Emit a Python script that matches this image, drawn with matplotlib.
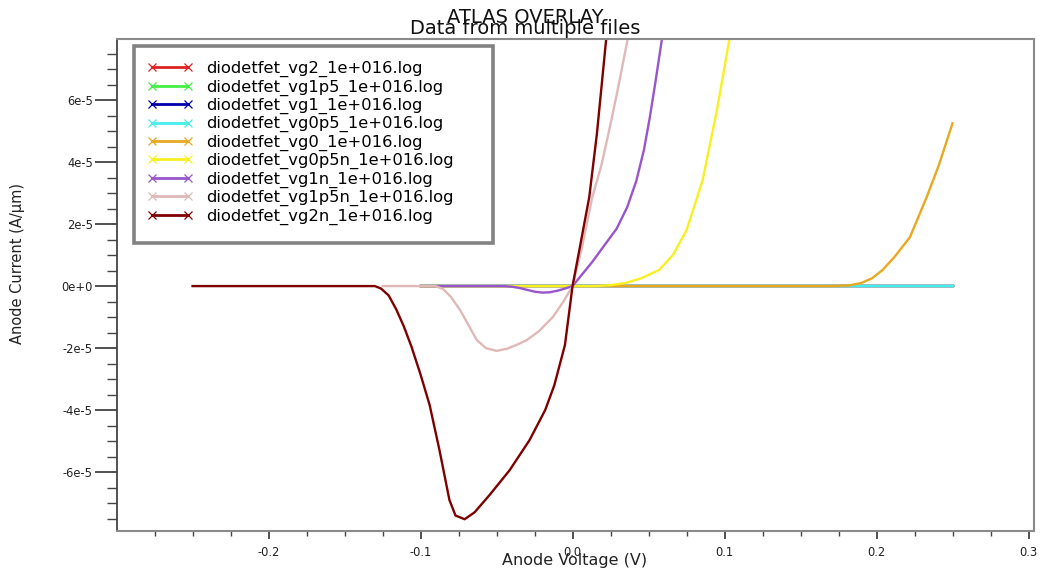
import matplotlib
matplotlib.use('Agg')
import matplotlib.pyplot as plt
from matplotlib.lines import Line2D
from matplotlib.patches import Rectangle
from matplotlib.ticker import MultipleLocator, FuncFormatter

# anode sweeps, voltage in V, current in A/um
V_FLAT = [-0.1, 0.25]
I_FLAT = [0.0, 0.0]

V_VG0 = [-0.1, 0.17, 0.182, 0.19, 0.197, 0.204, 0.212, 0.222, 0.233, 0.241, 0.25]
I_VG0 = [0, 0, 0.02e-5, 0.1e-5, 0.25e-5, 0.52e-5, 0.95e-5, 1.58e-5, 2.87e-5,
         3.9e-5, 5.25e-5]

V_VG0P5N = [-0.1, 0.015, 0.025, 0.035, 0.045, 0.057, 0.066, 0.075, 0.0855,
            0.0947, 0.103, 0.107]
I_VG0P5N = [0, 0, 0.03e-5, 0.1e-5, 0.25e-5, 0.52e-5, 1.0e-5, 1.8e-5, 3.4e-5,
            5.6e-5, 7.9e-5, 9.2e-5]

V_VG1N = [-0.1, -0.045, -0.04, -0.035, -0.03, -0.025, -0.02, -0.015, -0.01,
          -0.005, 0.0, 0.005, 0.013, 0.02, 0.029, 0.036, 0.042, 0.047, 0.0507,
          0.0546, 0.0586, 0.062]
I_VG1N = [0, 0, -0.02e-5, -0.06e-5, -0.12e-5, -0.18e-5, -0.21e-5, -0.2e-5,
          -0.15e-5, -0.08e-5, 0, 0.3e-5, 0.78e-5, 1.25e-5, 1.85e-5, 2.55e-5,
          3.4e-5, 4.4e-5, 5.4e-5, 6.6e-5, 7.9e-5, 9.2e-5]

V_VG1P5N = [-0.125, -0.09, -0.085, -0.08, -0.074, -0.068, -0.063, -0.057,
            -0.05, -0.043, -0.036, -0.03, -0.022, -0.013, -0.006, 0.0, 0.006,
            0.013, 0.019, 0.024, 0.03, 0.036, 0.04]
I_VG1P5N = [0, 0, -0.1e-5, -0.35e-5, -0.77e-5, -1.3e-5, -1.74e-5, -2.0e-5,
            -2.09e-5, -2.02e-5, -1.88e-5, -1.74e-5, -1.45e-5, -1.0e-5, -0.5e-5,
            0, 1.2e-5, 2.87e-5, 3.9e-5, 5.0e-5, 6.4e-5, 7.9e-5, 9.0e-5]

V_VG2N = [-0.25, -0.13, -0.126, -0.121, -0.116, -0.111, -0.106, -0.1,
          -0.094, -0.0875, -0.081, -0.077, -0.071, -0.0645, -0.0546, -0.0414,
          -0.0283, -0.018, -0.012, -0.005, 0.0, 0.005, 0.011, 0.016, 0.022,
          0.026]
I_VG2N = [0, 0, -0.08e-5, -0.3e-5, -0.75e-5, -1.3e-5, -1.95e-5, -2.85e-5,
          -3.84e-5, -5.3e-5, -6.9e-5, -7.4e-5, -7.52e-5, -7.3e-5, -6.74e-5,
          -5.94e-5, -4.97e-5, -4.0e-5, -3.2e-5, -1.9e-5, 0, 1.3e-5, 2.87e-5,
          4.9e-5, 7.9e-5, 10.0e-5]

NAMES = ['diodetfet_vg2_1e+016.log', 'diodetfet_vg1p5_1e+016.log',
         'diodetfet_vg1_1e+016.log', 'diodetfet_vg0p5_1e+016.log',
         'diodetfet_vg0_1e+016.log', 'diodetfet_vg0p5n_1e+016.log',
         'diodetfet_vg1n_1e+016.log', 'diodetfet_vg1p5n_1e+016.log',
         'diodetfet_vg2n_1e+016.log']
COLORS = ['#dd2222', '#44ee44', '#0000aa', '#44eeee', '#e8a820', '#f8f020',
          '#9955cc', '#e0b8b8', '#7f0000']
SERIES = [(V_FLAT, I_FLAT), (V_FLAT, I_FLAT), (V_FLAT, I_FLAT),
          (V_FLAT, I_FLAT), (V_VG0, I_VG0), (V_VG0P5N, I_VG0P5N),
          (V_VG1N, I_VG1N), (V_VG1P5N, I_VG1P5N), (V_VG2N, I_VG2N)]

W, H = 1043, 574
fig = plt.figure(figsize=(W / 100, H / 100), dpi=100)
ax = fig.add_axes([117 / W, 1 - 531 / H, (1034 - 117) / W, (531 - 39) / H])

for (v, i), c in zip(SERIES, COLORS):
    ax.plot(v, i, color=c, lw=1.7, solid_joinstyle='round')

ax.set_xlim(-0.2997, 0.3036)
ax.set_ylim(-7.9e-5, 7.97e-5)
ax.xaxis.set_major_locator(MultipleLocator(0.1))
ax.xaxis.set_minor_locator(MultipleLocator(0.025))
ax.yaxis.set_major_locator(MultipleLocator(2e-5))
ax.yaxis.set_minor_locator(MultipleLocator(0.5e-5))
ax.xaxis.set_major_formatter(FuncFormatter(lambda x, p: f'{x:.1f}'))
ax.yaxis.set_major_formatter(FuncFormatter(
    lambda y, p: '0e+0' if abs(y) < 1e-9 else f'{round(y / 1e-5):d}e-5'))

ax.tick_params(axis='y', which='major', length=15.8, width=1.1, pad=1.5,
               color='#222222', labelsize=8.3, labelcolor='#222222')
ax.tick_params(axis='y', which='minor', length=7.2, width=1.0, color='#444444')
ax.tick_params(axis='x', which='major', length=5.8, width=1.1, pad=5,
               color='#222222', labelsize=8.3, labelcolor='#222222')
ax.tick_params(axis='x', which='minor', length=3.6, width=1.0, color='#444444')

for side in ('top', 'right', 'bottom'):
    ax.spines[side].set_color('#8a8a8a')
    ax.spines[side].set_linewidth(1.5)
ax.spines['left'].set_color('#444444')
ax.spines['left'].set_linewidth(1.3)

fig.text(525 / W, 1 - 22.7 / H, 'ATLAS OVERLAY', ha='center', va='baseline',
         fontsize=14, color='#111111')
fig.text(525 / W, 1 - 33.5 / H, 'Data from multiple files', ha='center',
         va='baseline', fontsize=14, color='#111111')
fig.text(575 / W, 1 - 561 / H, 'Anode Voltage (V)', ha='center', va='center',
         fontsize=11.5, color='#222222')
fig.text(18 / W, 1 - 264 / H, 'Anode Current (A/\u00b5m)', ha='center',
         va='center', rotation=90, fontsize=10.5, color='#222222')

# legend box
fig.add_artist(Rectangle((134 / W, 1 - 243 / H), (493 - 134) / W,
                         (243 - 46) / H, transform=fig.transFigure,
                         facecolor='white', edgecolor='#828282', lw=2.6,
                         zorder=3))
handles = [Line2D([], [], color=c, lw=2, marker='x', markersize=6,
                  markeredgewidth=0.9) for c in COLORS]
fig.legend(handles, NAMES, loc='upper left',
           bbox_to_anchor=(146.7 / W, 1 - 61 / H),
           bbox_transform=fig.transFigure, frameon=False, borderpad=0,
           borderaxespad=0, fontsize=11.8, handlelength=2.85,
           handletextpad=0.75, labelspacing=0.135, numpoints=2)

fig.savefig('out.png', dpi=100)
